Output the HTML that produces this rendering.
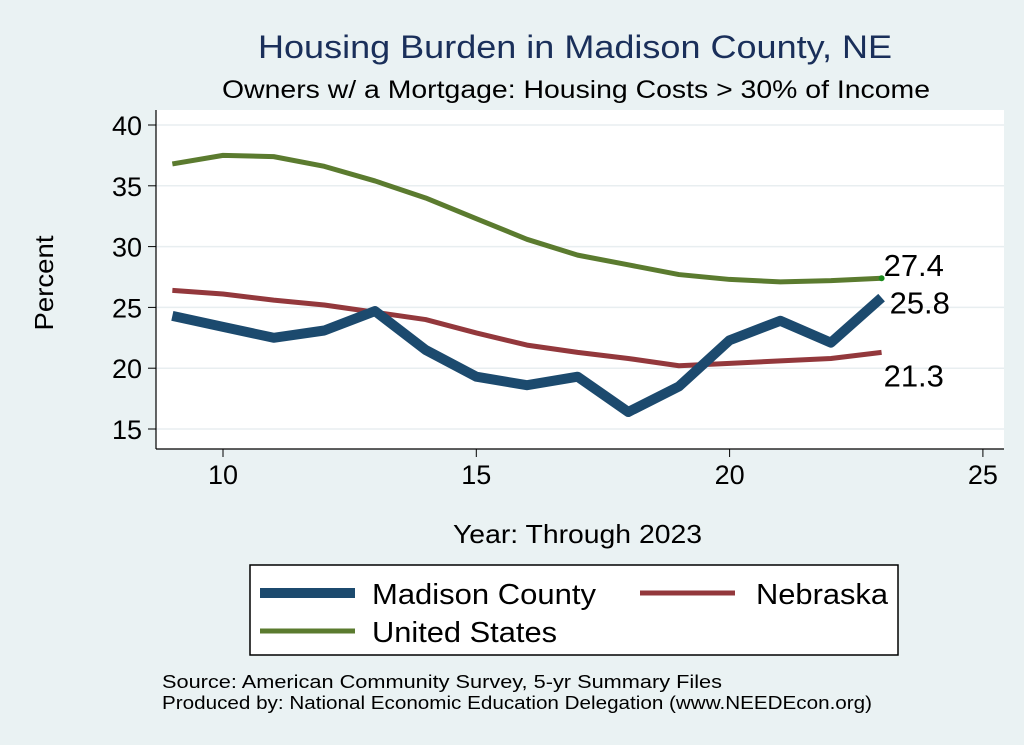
<!DOCTYPE html>
<html><head><meta charset="utf-8"><style>
body{margin:0;background:#eaf2f3;font-family:"Liberation Sans",sans-serif;}
svg{display:block}
</style></head><body>
<svg width="1024" height="745" xmlns="http://www.w3.org/2000/svg">
<rect x="0" y="0" width="1024" height="745" fill="#eaf2f3"/>
<text x="258" y="58" font-size="32" textLength="634" lengthAdjust="spacingAndGlyphs" fill="#1a2f5a">Housing Burden in Madison County, NE</text>
<text x="222" y="98" font-size="25" textLength="708" lengthAdjust="spacingAndGlyphs" fill="#000">Owners w/ a Mortgage: Housing Costs &gt; 30% of Income</text>
<rect x="156" y="110" width="848" height="339" fill="#fff"/>
<g id="grid"></g><g id="axes"></g><g id="series"></g>
<text transform="translate(53,283) rotate(-90)" font-size="26" text-anchor="middle" textLength="95" lengthAdjust="spacingAndGlyphs">Percent</text>
<text x="453" y="543" font-size="26" textLength="249" lengthAdjust="spacingAndGlyphs">Year: Through 2023</text>
<g>
<rect x="250" y="565" width="648" height="90" fill="#fff" stroke="#000" stroke-width="1.5"/>
<line x1="260" y1="593" x2="355" y2="593" stroke="#1c4a6e" stroke-width="10"/>
<text x="372" y="604" font-size="29" textLength="224" lengthAdjust="spacingAndGlyphs">Madison County</text>
<line x1="640" y1="593" x2="735" y2="593" stroke="#93383c" stroke-width="5"/>
<text x="756" y="604" font-size="29" textLength="132" lengthAdjust="spacingAndGlyphs">Nebraska</text>
<line x1="260" y1="631" x2="355" y2="631" stroke="#5b7b2f" stroke-width="5"/>
<text x="372" y="642" font-size="29" textLength="185" lengthAdjust="spacingAndGlyphs">United States</text>
</g>
<text x="162" y="688" font-size="18" textLength="560" lengthAdjust="spacingAndGlyphs">Source: American Community Survey, 5-yr Summary Files</text>
<text x="162" y="709" font-size="18" textLength="710" lengthAdjust="spacingAndGlyphs">Produced by: National Economic Education Delegation (www.NEEDEcon.org)</text>
</svg>
<script>
const years=[9,10,11,12,13,14,15,16,17,18,19,20,21,22,23];
const usVals=[36.8,37.5,37.4,36.6,35.4,34.0,32.3,30.6,29.3,28.5,27.7,27.3,27.1,27.2,27.4];
const neVals=[26.4,26.1,25.6,25.2,24.6,24.0,22.9,21.9,21.3,20.8,20.2,20.4,20.6,20.8,21.3];
const madVals=[24.3,23.4,22.5,23.1,24.7,21.5,19.3,18.6,19.3,16.4,18.5,22.3,23.9,22.1,25.8];
const yTicks=[15,20,25,30,35,40];
const xTicks=[10,15,20,25];
const NS="http://www.w3.org/2000/svg";
const xs=v=>223+(v-10)*50.66;
const ys=v=>429-(v-15)*12.16;
const g=document.getElementById('grid'),ax=document.getElementById('axes'),se=document.getElementById('series');
function mk(t,a,p){const e=document.createElementNS(NS,t);for(const k in a)e.setAttribute(k,a[k]);p.appendChild(e);return e;}
mk('line',{x1:156,y1:110,x2:156,y2:449,stroke:'#000','stroke-width':1.2},ax);
mk('line',{x1:156,y1:449,x2:1004,y2:449,stroke:'#000','stroke-width':1.2},ax);
yTicks.forEach(v=>{
 const l=mk('line',{x1:156,y1:ys(v),x2:1004,y2:ys(v),stroke:'#e8eef0','stroke-width':1.5},g);
 
 
 mk('line',{x1:148,y1:ys(v),x2:156,y2:ys(v),stroke:'#000'},ax);
 const t=mk('text',{x:142,y:ys(v)+10,'font-size':27,'text-anchor':'end'},ax);t.textContent=v;
 
 
});
xTicks.forEach(v=>{
 mk('line',{x1:xs(v),y1:449,x2:xs(v),y2:457,stroke:'#000'},ax);
 const t=mk('text',{x:xs(v),y:484,'font-size':27,'text-anchor':'middle'},ax);t.textContent=v;
 
 
});
function line(vals,col,w,name){
 const p=mk('polyline',{points:vals.map((v,i)=>xs(years[i])+','+ys(v)).join(' '),fill:'none',stroke:col,'stroke-width':w,'stroke-linejoin':'round'},se);
 
 
}
line(usVals,'#5b7b2f',5,'us-line');
line(neVals,'#93383c',5,'nebraska-line');
line(madVals,'#1c4a6e',10,'madison-line');
const n=years.length-1;
const c=mk('circle',{cx:xs(years[n]),cy:ys(usVals[n]),r:3,fill:'#1d8a1d'},se);


[[usVals[n],-2,'us-end-label'],[madVals[n],16,'madison-end-label'],[neVals[n],34,'nebraska-end-label']].forEach(([v,dy,nm])=>{
 const t=mk('text',{x:xs(years[n])+2+(nm==='madison-end-label'?6:0),y:ys(v)+dy,'font-size':31},se);
 t.textContent=v.toFixed(1);
 
 
});
</script>
</body></html>
